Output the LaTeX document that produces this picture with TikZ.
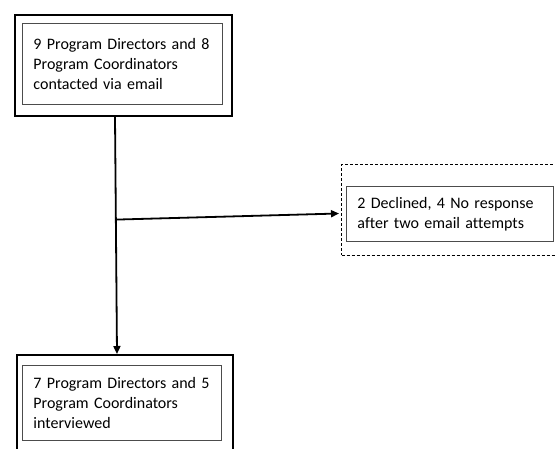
\documentclass[tikz,border=0pt]{standalone}
\usepackage{fontspec}
\setmainfont{Carlito}[Ligatures={NoCommon}]
\usetikzlibrary{arrows.meta}
\tikzset{
  outerbox/.style={draw=black, line width=1.6pt, rectangle, inner sep=0pt},
  dashbox/.style={draw=black, line width=1pt, dash pattern=on 3pt off 2pt, rectangle, inner sep=0pt},
  innerbox/.style={draw=black!70, line width=0.9pt, rectangle, inner xsep=11pt, inner ysep=0pt,
     align=left, font=\fontsize{16}{20}\selectfont, anchor=north west},
  flow/.style={line width=1.8pt, -{Triangle[length=8pt,width=7pt]}},
}
\begin{document}
\begin{tikzpicture}[x=1pt,y=-1pt]
\useasboundingbox (0,0) rectangle (555,449);
\clip (0,0) rectangle (555,449);
% top
\node[outerbox, anchor=north west, minimum width=217pt, minimum height=101pt] (out1) at (14,14) {};
\node[innerbox, minimum width=200pt, minimum height=81pt, text width=178pt] (in1) at (22,23)
  {9 Program Directors and 8\\Program Coordinators\\contacted via email};
% right (dashed)
\node[dashbox, anchor=north west, minimum width=230pt, minimum height=91pt] (out2) at (341,164) {};
\node[innerbox, minimum width=207pt, minimum height=55pt, text width=185pt] (in2) at (346,186)
  {2 Declined, 4 No response\\after two email attempts};
% bottom
\node[outerbox, anchor=north west, minimum width=216pt, minimum height=110pt] (out3) at (16,354) {};
\node[innerbox, minimum width=199pt, minimum height=75pt, text width=177pt] (in3) at (22,365)
  {7 Program Directors and 5\\Program Coordinators\\interviewed};
% connectors
\path (out1.south west) ++(101,0) coordinate (s1);
\path (out3.north west) ++(101,0) coordinate (e1);
\path (s1) ++(0.9,103) coordinate (b1);
\path (out2.west) ++(-2,3.5) coordinate (e2);
\draw[flow] (s1) -- (e1);
\draw[flow] (b1) -- (e2);
\end{tikzpicture}
\end{document}
